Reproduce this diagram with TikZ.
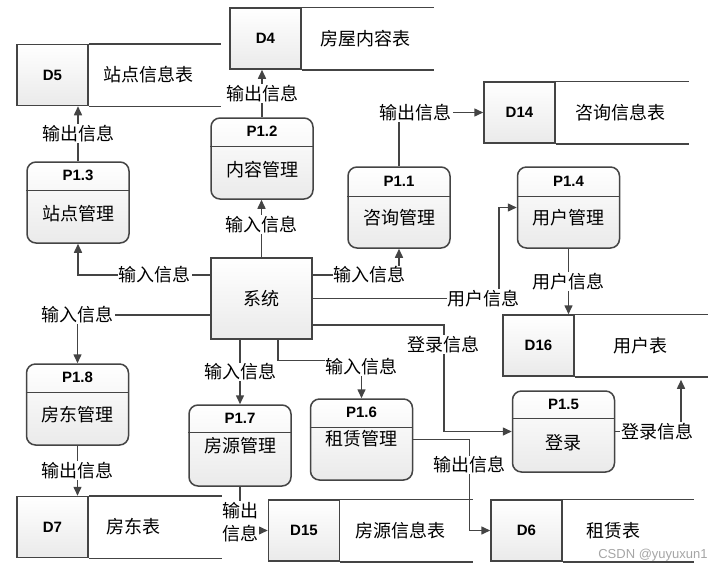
\documentclass[tikz,border=0pt]{standalone}
\usepackage{fontspec}
\setmainfont{Liberation Sans}
\newfontfamily\cjk{Noto Sans CJK SC}
\usetikzlibrary{arrows.meta}
\definecolor{linegrey}{RGB}{68,68,68}
\definecolor{boxgrey}{RGB}{234,234,234}
\definecolor{markgrey}{RGB}{165,165,165}

\tikzset{
	line/.style={draw=linegrey, line width=1.5pt},
	flow/.style={line, -{Triangle[length=9pt, width=8pt]}},
	lbl/.style={fill=white, inner sep=1pt, font=\cjk\fontsize{18}{23}\selectfont},
	ptext/.style={font=\cjk\fontsize{18}{20}\selectfont},
	pid/.style={font=\bfseries\fontsize{15}{18}\selectfont},
	proc/.style={line, rounded corners=9pt, top color=white, bottom color=boxgrey, minimum width=102pt, minimum height=81pt},
	sysbox/.style={line, top color=white, bottom color=boxgrey, minimum width=101pt, minimum height=81pt, ptext},
	storeid/.style={line, top color=white, bottom color=boxgrey, minimum width=71pt, minimum height=61pt, pid}
}

\begin{document}
\begin{tikzpicture}[x=1pt, y=-1pt]
	\useasboundingbox (0,0) rectangle (723,573);

	% stores
	\node[storeid] (d5) at (52.5,75) {D5};
	\draw[line] (d5.north east) -- ++(132,0); \draw[line] (d5.south east) -- ++(132,0);
	\node[ptext] (d5t) at (148,75) {站点信息表};

	\node[storeid] (d4) at (265.5,38.5) {D4};
	\draw[line] (d4.north east) -- ++(132,0); \draw[line] (d4.south east) -- ++(132,0);
	\node[ptext] (d4t) at (365,38.5) {房屋内容表};

	\node[storeid] (d14) at (519.5,112.5) {D14};
	\draw[line] (d14.north east) -- ++(133,0); \draw[line] (d14.south east) -- ++(133,0);
	\node[ptext] (d14t) at (620,112.5) {咨询信息表};

	\node[storeid] (d16) at (538.5,345.5) {D16};
	\draw[line] (d16.north east) -- ++(133,0); \draw[line] (d16.south east) -- ++(133,0);
	\node[ptext] (d16t) at (640,345.5) {用户表};

	\node[storeid] (d7) at (52.5,527) {D7};
	\draw[line] (d7.north east) -- ++(133,0); \draw[line] (d7.south east) -- ++(133,0);
	\node[ptext] (d7t) at (133,527) {房东表};

	\node[storeid] (d15) at (304,530.5) {D15};
	\draw[line] (d15.north east) -- ++(133,0); \draw[line] (d15.south east) -- ++(133,0);
	\node[ptext] (d15t) at (400,530.5) {房源信息表};

	\node[storeid] (d6) at (526.5,530.5) {D6};
	\draw[line] (d6.north east) -- ++(131,0); \draw[line] (d6.south east) -- ++(131,0);
	\node[ptext] (d6t) at (613,530.5) {租赁表};

	% processes
	\node[proc] (p13) at (78,202.5) {};
	\node[pid] at ([yshift=-14.5pt]p13.north) {P1.3};
	\draw[line] ([yshift=-29pt]p13.north west) -- ([yshift=-29pt]p13.north east);
	\node[ptext] (p13t) at ([yshift=-52pt]p13.north) {站点管理};

	\node[proc] (p12) at (262,158.5) {};
	\node[pid] at ([yshift=-14.5pt]p12.north) {P1.2};
	\draw[line] ([yshift=-29pt]p12.north west) -- ([yshift=-29pt]p12.north east);
	\node[ptext] (p12t) at ([yshift=-52pt]p12.north) {内容管理};

	\node[proc] (p11) at (399,207.5) {};
	\node[pid] at ([yshift=-15pt]p11.north) {P1.1};
	\draw[line] ([yshift=-30pt]p11.north west) -- ([yshift=-30pt]p11.north east);
	\node[ptext] (p11t) at ([yshift=-51pt]p11.north) {咨询管理};

	\node[proc] (p14) at (568.5,207.5) {};
	\node[pid] at ([yshift=-15pt]p14.north) {P1.4};
	\draw[line] ([yshift=-30pt]p14.north west) -- ([yshift=-30pt]p14.north east);
	\node[ptext] (p14t) at ([yshift=-51pt]p14.north) {用户管理};

	\node[proc] (p15) at (563.5,431.5) {};
	\node[pid] at ([yshift=-14pt]p15.north) {P1.5};
	\draw[line] ([yshift=-28pt]p15.north west) -- ([yshift=-28pt]p15.north east);
	\node[ptext] (p15t) at ([yshift=-52pt]p15.north) {登录};

	\node[proc] (p18) at (77.5,404.5) {};
	\node[pid] at ([yshift=-14.5pt]p18.north) {P1.8};
	\draw[line] ([yshift=-29pt]p18.north west) -- ([yshift=-29pt]p18.north east);
	\node[ptext] (p18t) at ([yshift=-51pt]p18.north) {房东管理};

	\node[proc] (p17) at (240,445.5) {};
	\node[pid] at ([yshift=-14pt]p17.north) {P1.7};
	\draw[line] ([yshift=-28pt]p17.north west) -- ([yshift=-28pt]p17.north east);
	\node[ptext] (p17t) at ([yshift=-41pt]p17.north) {房源管理};

	\node[proc] (p16) at (361.5,439.5) {};
	\node[pid] at ([yshift=-14.5pt]p16.north) {P1.6};
	\draw[line] ([yshift=-29pt]p16.north west) -- ([yshift=-29pt]p16.north east);
	\node[ptext] (p16t) at ([yshift=-40pt]p16.north) {租赁管理};

	% system
	\node[sysbox] (sys) at (261.5,298.5) {系统};

	% flows
	\draw[flow] (p13.north) -- node[lbl] {输出信息} (p13.north |- d5.south);
	\draw[flow] (p12.north) -- node[lbl] {输出信息} (p12.north |- d4.south);
	\draw[flow] (p11.north) |- node[lbl, pos=0.6] {输出信息} (d14.west);
	\draw[flow] (sys.north) -- node[lbl, pos=0.57] {输入信息} (sys.north |- p12.south);
	\draw[flow] ([yshift=23.5pt]sys.west) -| node[lbl, pos=0.21] {输入信息} (p13.south);
	\draw[flow] ([yshift=-16.5pt]sys.west) -| node[lbl, pos=0.5] {输入信息} (p18.north);
	\draw[flow] ([yshift=23.5pt]sys.east) -| node[lbl, pos=0.33] {输入信息} (p11.south);
	\draw[flow] (sys.east) -| node[lbl, pos=0.46] {用户信息} ([xshift=-18pt]p14.west) -- (p14.west);
	\draw[flow] ([yshift=-26.5pt]sys.east) -| node[lbl, pos=0.59] {登录信息} ([xshift=-68pt]p15.west) -- (p15.west);
	\draw[flow] (sys.south -| p17.north) -- node[lbl] {输入信息} (p17.north);
	\draw[flow] ([xshift=16.5pt]sys.south) |- ([yshift=38pt]p16.north) -- node[lbl, pos=0.16] {输入信息} (p16.north);
	\draw[flow] (p14.south) -- node[lbl] {用户信息} (p14.south |- d16.north);
	\draw[flow, shorten >=3pt] (p15.east) -| node[lbl, pos=0.32] {登录信息} ([xshift=142.5pt]d16.south);
	\draw[flow] (p18.south) -- node[lbl] {输出信息} (p18.south |- d7.north);
	\draw[flow] (p17.south) |- node[lbl, align=center, pos=0.4] {输出\\信息} (d15.west);
	\draw[flow] (p16.east) -| node[lbl, pos=0.64] {输出信息} ([xshift=-21pt]d6.west) -- (d6.west);

	\node[text=markgrey, font=\fontsize{13}{15}\selectfont] (mark) at (653,555) {CSDN @yuyuxun1};
\end{tikzpicture}
\end{document}
